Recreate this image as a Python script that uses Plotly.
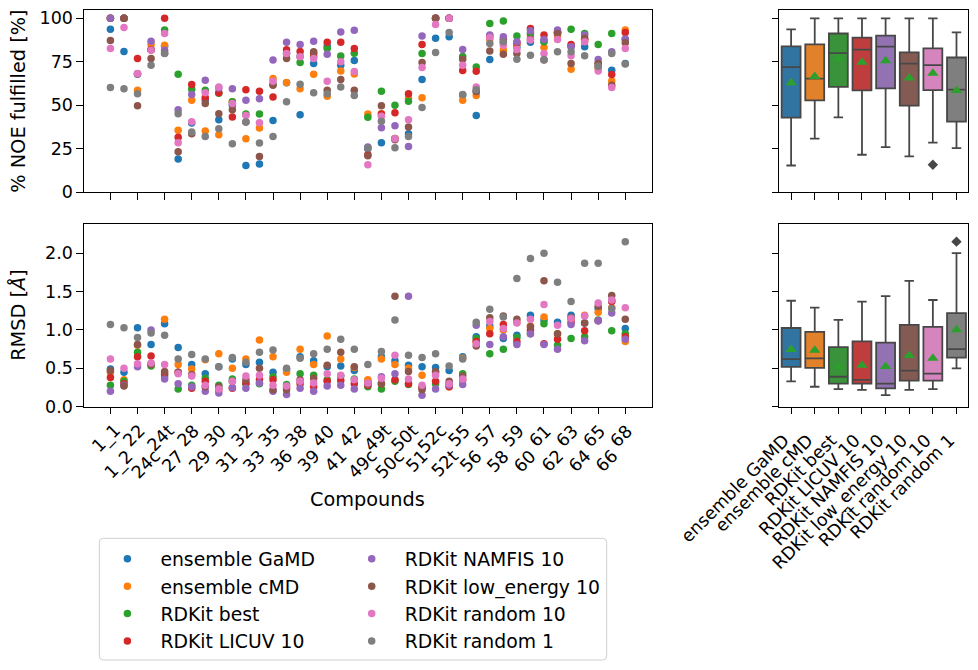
import numpy as np
import plotly.graph_objects as go

compounds = ["1_1", "1_2", "22", "24c", "24t", "27", "28", "29", "30", "31", "32", "33", "35",
             "36", "38", "39", "40", "41", "42", "49c", "49t", "50c", "50t", "51", "52c", "52t",
             "55", "56", "57", "58", "59", "60", "61", "62", "63", "64", "65", "66", "68"]
methods = ["ensemble GaMD", "ensemble cMD", "RDKit best", "RDKit LICUV 10", "RDKit NAMFIS 10",
           "RDKit low_energy 10", "RDKit random 10", "RDKit random 1"]

# % NOE fulfilled per compound
noe_gamd = [93.7, 81, 68, 82, 84, 19.2, 39.8, 53, 41.7, 50, 15.4, 16.3, 41.3, 63, 44.6, 74, 84, 73.1, 75.8,
            25, 28.5, 31, 33.7, 64.8, 88.5, 89.4, 56, 44.2, 76.3, 86, 83.7, 86.2, 87, 92, 84, 83.7, 72, 70.2, 74]
noe_cmd = [100, 100, 58.7, 85, 84.6, 35.6, 52.9, 35.2, 33.1, 52, 30.8, 36.9, 65.4, 63.1, 59.6, 67.9, 55.2, 69.8, 68,
           45, 45.2, 31, 54, 54.4, 100, 100, 52.9, 55.6, 88, 81.7, 85, 90, 83.3, 90, 70.8, 87, 71.2, 64, 93.3]
noe_best = [100, 100, 68, 82, 93.3, 67.9, 59.2, 58.6, 57, 52, 45, 45, 62, 80, 74.6, 78, 82.7, 78.3, 80,
            43.1, 58.1, 50, 52.3, 79.8, 100, 100, 78, 72.1, 97.1, 98.5, 89.8, 91.3, 86.5, 92, 93.7, 91.3, 85, 91.3, 88]
noe_licuv = [100, 100, 76.9, 82, 100, 31.7, 61.9, 54.4, 57.3, 43.3, 59, 58.1, 54.8, 82, 81, 80, 86.2, 86.2, 82.7,
             21.6, 45, 45.8, 56.7, 85, 100, 100, 70, 69.6, 89.8, 88, 86, 94.2, 90.4, 92, 85, 88, 74, 67.7, 91.9]
noe_namfis = [100, 100, 68, 86.9, 81.7, 47.5, 56.2, 64.4, 60, 59.6, 52.9, 53.8, 76, 86.2, 85, 86.9, 79.4, 92.1, 93.1,
              26, 37.1, 38.3, 26.3, 89.8, 100, 100, 82.1, 58, 90.4, 89.4, 86.5, 92.9, 87.9, 93.3, 83.7, 90.4, 76.3, 80.8, 88.1]
noe_lowe = [87.3, 100, 49.8, 76.9, 80, 23.3, 33.7, 51, 45.2, 47.5, 40.4, 20.6, 61.5, 76.9, 78, 80.8, 58.7, 64.8, 58.7,
            21, 49.8, 30.2, 37.5, 74.6, 100, 100, 76.5, 58, 81.3, 79.4, 79.8, 88, 76, 91.3, 74, 88.5, 74, 61.5, 86]
noe_rand10 = [82.7, 94.8, 68.3, 81.7, 91.3, 28.5, 40.6, 57.3, 60.6, 51, 44.2, 40, 63.8, 79.8, 77.9, 76.9, 63.8, 75, 69.4,
              15.8, 43.7, 30.8, 41.7, 71.7, 96.5, 100, 73.1, 60.6, 89, 84.6, 82.1, 87.5, 79.8, 87.9, 78.5, 86.5, 69.8, 60.2, 82.7]
noe_rand1 = [60.2, 59.6, 56.7, 73.1, 79.8, 45.2, 34.6, 32.1, 36.5, 27.9, 40.4, 28.3, 32.1, 52.1, 62.1, 57.3, 56.7, 60.6, 55.6,
             25.4, 40.8, 25.6, 32.1, 48.7, 80.4, 91.9, 56.2, 59, 85.6, 86.5, 76.5, 78.8, 76.3, 80.8, 80.8, 78.5, 72.5, 79.8, 73.7]

# RMSD [Å] per compound
rmsd_gamd = [0.49, 0.45, 1.03, 0.81, 1.08, 0.77, 0.55, 0.43, 0.52, 0.62, 0.55, 0.58, 0.45, 0.48, 0.65, 0.60, 0.52, 0.53, 0.47,
             0.33, 0.65, 0.60, 0.54, 0.52, 0.51, 0.47, 0.65, 0.91, 1.05, 0.89, 0.93, 1.19, 1.13, 1.10, 1.19, 1.09, 1.28, 1.38, 1.02]
rmsd_cmd = [0.45, 0.35, 0.80, 0.55, 1.14, 0.55, 0.49, 0.61, 0.69, 0.50, 0.62, 0.87, 0.65, 0.45, 0.75, 0.55, 0.92, 0.62, 0.51,
            0.35, 0.62, 0.55, 0.50, 0.41, 0.45, 0.26, 0.63, 0.85, 1.02, 1.00, 1.10, 1.05, 1.17, 0.95, 1.15, 1.19, 1.23, 1.29, 0.85]
rmsd_best = [0.28, 0.33, 0.71, 0.53, 0.40, 0.23, 0.28, 0.37, 0.28, 0.36, 0.30, 0.30, 0.39, 0.29, 0.43, 0.41, 0.35, 0.40, 0.36,
             0.26, 0.23, 0.33, 0.29, 0.25, 0.30, 0.30, 0.43, 0.89, 0.69, 0.75, 0.90, 0.95, 1.08, 0.80, 0.89, 0.91, 1.13, 0.99, 0.95]
rmsd_licuv = [0.38, 0.30, 0.65, 0.66, 0.43, 0.45, 0.24, 0.33, 0.22, 0.24, 0.31, 0.35, 0.35, 0.25, 0.30, 0.26, 0.33, 0.34, 0.30,
              0.28, 0.30, 0.35, 0.30, 0.25, 0.33, 0.26, 0.35, 0.85, 0.95, 1.07, 0.85, 1.00, 0.82, 0.88, 1.10, 0.99, 1.12, 1.37, 0.91]
rmsd_namfis = [0.20, 0.28, 0.52, 1.00, 0.36, 0.30, 0.26, 0.20, 0.18, 0.25, 0.24, 0.31, 0.20, 0.16, 0.24, 0.20, 0.27, 0.28, 0.23,
               0.30, 0.39, 0.43, 1.44, 0.15, 0.23, 0.28, 0.29, 1.06, 0.81, 0.91, 0.81, 0.95, 0.81, 0.75, 1.07, 0.86, 1.12, 1.22, 0.88]
rmsd_lowe = [0.47, 0.27, 0.81, 0.55, 0.46, 0.45, 0.42, 0.26, 0.26, 0.33, 0.35, 0.50, 0.22, 0.22, 0.35, 0.37, 0.54, 0.71, 0.52,
             0.30, 0.30, 1.44, 0.46, 0.22, 0.46, 0.33, 0.40, 0.79, 1.16, 1.18, 1.14, 1.04, 1.64, 0.95, 1.16, 1.09, 1.31, 1.45, 1.14]
rmsd_rand10 = [0.62, 0.50, 0.56, 0.57, 0.55, 0.43, 0.40, 0.28, 0.23, 0.33, 0.40, 0.41, 0.28, 0.27, 0.33, 0.31, 0.43, 0.41, 0.35,
               0.31, 0.37, 0.67, 0.36, 0.28, 0.41, 0.30, 0.36, 0.82, 1.11, 1.02, 1.09, 1.14, 1.33, 1.06, 1.15, 1.18, 1.35, 1.39, 1.29]
rmsd_rand1 = [1.07, 1.03, 0.90, 0.96, 0.93, 0.62, 0.68, 0.62, 0.52, 0.64, 0.58, 0.71, 0.74, 0.50, 0.63, 0.69, 0.75, 0.88, 0.75,
              0.55, 0.72, 1.13, 0.67, 0.64, 0.69, 0.53, 0.62, 1.10, 1.27, 1.17, 1.67, 1.93, 2.00, 1.62, 1.37, 1.87, 1.87, 1.28, 2.15]

noe_series = [noe_gamd, noe_cmd, noe_best, noe_licuv, noe_namfis, noe_lowe, noe_rand10, noe_rand1]
rmsd_series = [rmsd_gamd, rmsd_cmd, rmsd_best, rmsd_licuv, rmsd_namfis, rmsd_lowe, rmsd_rand10, rmsd_rand1]

y_ticks_noe = [0, 25, 50, 75, 100]
y_ticks_rmsd = [0.0, 0.5, 1.0, 1.5, 2.0]

# ---- style ----
W, H = 978, 670
FONT = "DejaVu Sans"
point_colors = ["#1f77b4", "#ff7f0e", "#2ca02c", "#d62728", "#9467bd", "#8c564b", "#e377c2", "#7f7f7f"]
box_colors = ["#3274a1", "#e1812c", "#3a923a", "#c03d3e", "#9372b2", "#845b53", "#d684bd", "#7f7f7f"]
GRAY = "#474747"
TICK_FS = 17.5
LABEL_FS = 19.3
LEGEND_FS = 18.8


def px_x(p):
    return p / W


def px_y(p):
    return 1 - p / H


dom_left = [px_x(84), px_x(651.7)]
dom_right = [px_x(779.3), px_x(968.3)]
dom_top = [px_y(192.3), px_y(10)]
dom_bot = [px_y(406.7), px_y(224)]

fig = go.Figure()

# Box plots first (so the mean markers draw on top)
for series, xa, ya in [(noe_series, "x2", "y2"), (rmsd_series, "x4", "y4")]:
    for i, m in enumerate(methods):
        fig.add_trace(go.Box(
            x=[m] * len(series[i]), y=series[i], name=m, xaxis=xa, yaxis=ya,
            fillcolor=box_colors[i], line=dict(color=GRAY, width=1.8),
            marker=dict(symbol="diamond", color=GRAY, size=8, line=dict(width=0)),
            boxpoints="outliers", pointpos=0, jitter=0, whiskerwidth=0.5, width=0.8,
            quartilemethod="inclusive", showlegend=False, hoverinfo="skip"))
for series, xa, ya in [(noe_series, "x2", "y2"), (rmsd_series, "x4", "y4")]:
    fig.add_trace(go.Scatter(
        x=methods, y=[float(np.mean(s)) for s in series], mode="markers", xaxis=xa, yaxis=ya,
        marker=dict(symbol="triangle-up", color="#2ca02c", size=10, line=dict(width=0)),
        showlegend=False, hoverinfo="skip"))

# Strip plots
for i, m in enumerate(methods):
    fig.add_trace(go.Scatter(
        x=compounds, y=noe_series[i], mode="markers", name=m, xaxis="x", yaxis="y",
        marker=dict(color=point_colors[i], size=7.5, line=dict(width=0)),
        legend="legend" if i < 4 else "legend2", showlegend=True))
    fig.add_trace(go.Scatter(
        x=compounds, y=rmsd_series[i], mode="markers", name=m, xaxis="x3", yaxis="y3",
        marker=dict(color=point_colors[i], size=7.5, line=dict(width=0)),
        showlegend=False))

axis_common = dict(showline=True, mirror=True, linecolor="black", linewidth=1.1,
                   ticks="outside", ticklen=6.5, tickwidth=1.1, tickcolor="black",
                   showgrid=False, zeroline=False, automargin=False,
                   tickfont=dict(family=FONT, size=TICK_FS, color="black"))

legend_common = dict(xanchor="left", yanchor="top", bgcolor="rgba(0,0,0,0)",
                     font=dict(family=FONT, size=LEGEND_FS, color="black"), borderwidth=0,
                     tracegroupgap=0, itemwidth=56)

fig.update_layout(
    width=W, height=H, margin=dict(l=0, r=0, t=0, b=0, autoexpand=False),
    paper_bgcolor="white", plot_bgcolor="white",
    font=dict(family=FONT, size=TICK_FS, color="black"),
    xaxis=dict(domain=dom_left, anchor="y", type="category", categoryorder="array",
               categoryarray=compounds, range=[-1.95, 39.95], showticklabels=False, **axis_common),
    yaxis=dict(domain=dom_top, anchor="x", range=[0, 104.8], tickvals=y_ticks_noe, **axis_common),
    xaxis2=dict(domain=dom_right, anchor="y2", type="category", categoryorder="array",
                categoryarray=methods, range=[-0.5, 7.5], showticklabels=False, **axis_common),
    yaxis2=dict(domain=dom_top, anchor="x2", matches="y", range=[0, 104.8], tickvals=y_ticks_noe,
                showticklabels=False, **axis_common),
    xaxis3=dict(domain=dom_left, anchor="y3", type="category", categoryorder="array",
                categoryarray=compounds, range=[-1.95, 39.95], showticklabels=False, **axis_common),
    yaxis3=dict(domain=dom_bot, anchor="x3", range=[0, 2.38], tickvals=y_ticks_rmsd,
                tickformat=".1f", **axis_common),
    xaxis4=dict(domain=dom_right, anchor="y4", type="category", categoryorder="array",
                categoryarray=methods, range=[-0.5, 7.5], tickangle=-45,
                ticklabelstandoff=9, ticklabelshift=-7, **axis_common),
    yaxis4=dict(domain=dom_bot, anchor="x4", matches="y3", range=[0, 2.38], tickvals=y_ticks_rmsd,
                showticklabels=False, **axis_common),
    legend=dict(x=px_x(94.4), y=px_y(540), **legend_common),
    legend2=dict(x=px_x(338.7), y=px_y(540), **legend_common),
    showlegend=True,
)

# legend frame (rounded)
x0, x1, y0, y1, r = 99.3, 606.7, 538.3, 660, 4
path = (f"M {px_x(x0 + r)},{px_y(y0)} L {px_x(x1 - r)},{px_y(y0)} Q {px_x(x1)},{px_y(y0)} {px_x(x1)},{px_y(y0 + r)} "
        f"L {px_x(x1)},{px_y(y1 - r)} Q {px_x(x1)},{px_y(y1)} {px_x(x1 - r)},{px_y(y1)} "
        f"L {px_x(x0 + r)},{px_y(y1)} Q {px_x(x0)},{px_y(y1)} {px_x(x0)},{px_y(y1 - r)} "
        f"L {px_x(x0)},{px_y(y0 + r)} Q {px_x(x0)},{px_y(y0)} {px_x(x0 + r)},{px_y(y0)} Z")
fig.add_shape(type="path", path=path, xref="paper", yref="paper",
              line=dict(color="#d0d0d0", width=1), fillcolor="rgba(0,0,0,0)", layer="below")

# approximate glyph advance widths (em) for label centring
ADV = {"_": 0.5, "c": 0.55, "t": 0.392}


def text_w(s):
    return sum(ADV.get(ch, 0.636) for ch in s) * TICK_FS


annotations = []
# staggered compound tick labels (centred on the tick, alternate rows)
for i, c in enumerate(compounds):
    odd = i % 2 == 1
    dy = 29.3 + 0.3 * (text_w(c) - 22.3)
    if odd:
        dy += 25.5
    annotations.append(dict(
        x=i, xref="x3", y=dom_bot[0], yref="paper", text=c, showarrow=False,
        textangle=-45, xanchor="center", yanchor="middle",
        xshift=-5 if odd else -4, yshift=-dy,
        font=dict(family=FONT, size=TICK_FS, color="black")))
# axis titles
annotations.append(dict(x=px_x(18.5), y=(dom_top[0] + dom_top[1]) / 2, xref="paper", yref="paper",
                        text="% NOE fulfilled [%]", textangle=-90, showarrow=False,
                        xanchor="center", yanchor="middle",
                        font=dict(family=FONT, size=LABEL_FS, color="black")))
annotations.append(dict(x=px_x(18.5), y=(dom_bot[0] + dom_bot[1]) / 2, xref="paper", yref="paper",
                        text="RMSD [<i>Å</i>]", textangle=-90, showarrow=False,
                        xanchor="center", yanchor="middle",
                        font=dict(family=FONT, size=LABEL_FS, color="black")))
annotations.append(dict(x=(dom_left[0] + dom_left[1]) / 2, y=px_y(499), xref="paper", yref="paper",
                        text="Compounds", showarrow=False, xanchor="center", yanchor="middle",
                        font=dict(family=FONT, size=LABEL_FS, color="black")))
fig.update_layout(annotations=annotations)

fig.write_html("out.html")
